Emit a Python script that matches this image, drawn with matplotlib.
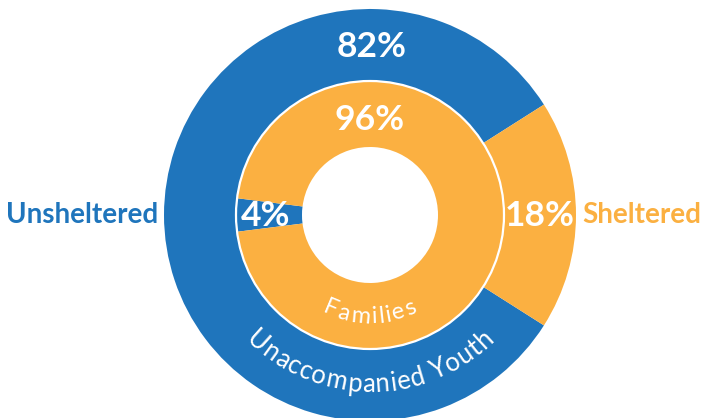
import numpy as np
import matplotlib
matplotlib.use("Agg")
import matplotlib.pyplot as plt
from matplotlib.patches import Circle

# ---- data ----
categories = ["Unsheltered", "Sheltered"]
outer_label = "Unaccompanied Youth"
inner_label = "Families"
outer_values = [82, 18]   # Unaccompanied Youth: Unsheltered, Sheltered
inner_values = [4, 96]    # Families: Unsheltered, Sheltered

BLUE = "#1F75BC"
ORANGE = "#FBB041"
colors = [BLUE, ORANGE]
FONT = ["Lato", "DejaVu Sans"]

W, H = 701, 418
fig = plt.figure(figsize=(W / 100, H / 100), dpi=100)
ax = fig.add_axes([0, 0, 1, 1])
ax.set_xlim(0, W)
ax.set_ylim(0, H)
ax.set_aspect("equal")
ax.axis("off")

cx, cy = 370, H - 215
R_out, R_mid, R_in = 206, 134, 68

# outer ring: Sheltered wedge centred on the right
start_out = 360 * outer_values[1] / sum(outer_values) / 2
ax.pie(outer_values, colors=colors, radius=R_out, center=(cx, cy),
       startangle=start_out, counterclock=True,
       wedgeprops=dict(width=R_out - R_mid, linewidth=0), frame=True)
# inner ring: Unsheltered wedge centred on the left
start_in = 180 - 360 * inner_values[0] / sum(inner_values) / 2
ax.pie(inner_values, colors=colors, radius=R_mid, center=(cx, cy),
       startangle=start_in, counterclock=True,
       wedgeprops=dict(width=R_mid - R_in, linewidth=0), frame=True)
ax.add_patch(Circle((cx, cy), R_mid, facecolor="none", edgecolor="white", linewidth=1.6, zorder=5))
ax.set_xlim(0, W)
ax.set_ylim(0, H)
ax.axis("off")

# percentage labels
pct_kw = dict(color="white", fontsize=25.5, fontweight="bold", family=FONT,
              ha="center", va="center", zorder=6)
ax.text(cx + 2, H - 47, f"{outer_values[0]}%", **pct_kw)
ax.text(cx + 170, H - 216, f"{outer_values[1]}%", **pct_kw)
ax.text(cx, H - 120, f"{inner_values[1]}%", **pct_kw)
ax.text(cx - 104, H - 216, f"{inner_values[0]}%", **pct_kw)

# category labels
ax.text(82, H - 215, categories[0], color=BLUE, fontsize=20, fontweight="bold",
        family=FONT, ha="center", va="center")
ax.text(642, H - 215, categories[1], color=ORANGE, fontsize=20, fontweight="bold",
        family=FONT, ha="center", va="center")

renderer = fig.canvas.get_renderer()


def text_w(s, fs):
    t = ax.text(0, 0, s, fontsize=fs, family=FONT)
    w = t.get_window_extent(renderer).width
    t.remove()
    return w


def curved_bottom(text, r_base, fs, spacing, color="white"):
    widths = []
    for ch in text:
        if ch == " ":
            widths.append(text_w("n n", fs) - text_w("nn", fs))
        else:
            widths.append(text_w(ch, fs) + fs * spacing)
    total = sum(widths)
    span = total / r_base
    ang = -np.pi / 2 - span / 2
    cum = 0
    for ch, w in zip(text, widths):
        a = ang + (cum + w / 2) / r_base
        cum += w
        if ch == " ":
            continue
        x = cx + r_base * np.cos(a)
        y = cy + r_base * np.sin(a)
        ax.text(x, y, ch, fontsize=fs, family=FONT, color=color,
                rotation=np.degrees(a) + 90, rotation_mode="anchor",
                ha="center", va="baseline", zorder=7)


curved_bottom(inner_label, 108, 17, 0.12)
curved_bottom(outer_label, 177, 18.5, 0.06)

fig.savefig("out.png", dpi=100)
